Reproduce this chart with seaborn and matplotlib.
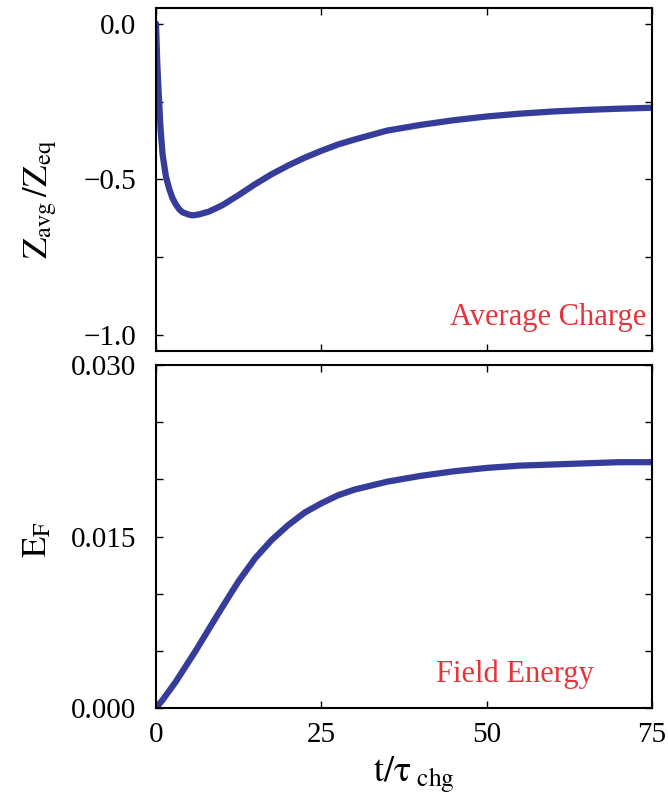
import numpy as np
import pandas as pd
import matplotlib
matplotlib.use("Agg")
import matplotlib.pyplot as plt
import seaborn as sns

# values
t_charge = [0, 0.2, 0.4, 0.7, 1.0, 1.5, 2.0, 2.5, 3.0, 3.5, 4.0, 5.0, 5.6, 6.5, 8, 10,
            12.5, 15, 17.5, 20, 22.5, 25, 27.5, 30, 35, 40, 45, 50, 55, 60, 65, 70, 75]
z_avg = [0.0, -0.13, -0.22, -0.34, -0.42, -0.49, -0.53, -0.56, -0.58, -0.595, -0.605,
         -0.613, -0.615, -0.612, -0.603, -0.583, -0.55, -0.515, -0.483, -0.455, -0.43,
         -0.408, -0.388, -0.372, -0.343, -0.325, -0.31, -0.298, -0.289, -0.282, -0.277,
         -0.273, -0.27]

t_field = [0, 1, 2, 3, 4, 5, 6, 8, 10, 12.5, 15, 17.5, 20, 22.5, 25, 27.5, 30, 35,
           40, 45, 50, 55, 60, 65, 70, 75]
e_field = [0.0, 0.0007, 0.0015, 0.0023, 0.0032, 0.0041, 0.005, 0.0069, 0.0088, 0.0111,
           0.0131, 0.0147, 0.016, 0.0171, 0.0179, 0.0186, 0.0191, 0.0198, 0.0203,
           0.0207, 0.021, 0.0212, 0.0213, 0.0214, 0.0215, 0.0215]

charge_df = pd.DataFrame({"t": t_charge, "z": z_avg})
field_df = pd.DataFrame({"t": t_field, "e": e_field})

sns.set_style("ticks")
plt.rcParams["font.family"] = ["Liberation Serif", "DejaVu Serif"]
plt.rcParams["mathtext.fontset"] = "stix"
plt.rcParams["xtick.direction"] = "in"
plt.rcParams["ytick.direction"] = "in"
plt.rcParams["text.color"] = "black"
plt.rcParams["axes.labelcolor"] = "black"
plt.rcParams["xtick.color"] = "black"
plt.rcParams["ytick.color"] = "black"
plt.rcParams["axes.edgecolor"] = "black"

line_color = "#353c9a"
note_color = "#e8333b"

fig = plt.figure(figsize=(6.68, 7.97), dpi=100)
ax1 = fig.add_axes([0.2335, 0.5596, 0.7425, 0.4304])
ax2 = fig.add_axes([0.2335, 0.1117, 0.7425, 0.4303])

sns.lineplot(data=charge_df, x="t", y="z", ax=ax1, color=line_color, lw=4.5)
sns.lineplot(data=field_df, x="t", y="e", ax=ax2, color=line_color, lw=4.5)

for ax in (ax1, ax2):
    ax.set_xlim(0, 75)
    ax.set_xticks([0, 25, 50, 75])
    ax.tick_params(which="both", top=True, right=True, length=5, width=1,
                   labelsize=21)
    ax.tick_params(axis="y", pad=14)
    ax.tick_params(axis="x", pad=10)
    for s in ax.spines.values():
        s.set_linewidth(1.5)
    ax.set_xlabel("")

ax1.set_ylim(-1.05, 0.05)
ax1.set_yticks([0.0, -0.25, -0.5, -0.75, -1.0])
ax1.set_yticklabels(["0.0", "", "\u22120.5", "", "\u22121.0"])
ax1.tick_params(labelbottom=False)
ax1.set_ylabel(r"$\mathrm{Z_{avg}\,/Z_{eq}}$", fontsize=25)
ax1.yaxis.set_label_coords(-0.195, 0.443)
ax1.text(0.988, 0.076, "Average Charge", transform=ax1.transAxes, ha="right",
         va="baseline", color=note_color, fontsize=22)

ax2.set_ylim(0, 0.030)
ax2.set_yticks([0.0, 0.005, 0.010, 0.015, 0.020, 0.025, 0.030])
ax2.set_yticklabels(["0.000", "", "", "0.015", "", "", "0.030"])
ax2.set_xticklabels(["0", "25", "50", "75"])
ax2.set_ylabel(r"$\mathrm{E_F}$", fontsize=25)
ax2.yaxis.set_label_coords(-0.205, 0.49)
ax2.text(0.565, 0.076, "Field Energy", transform=ax2.transAxes, ha="left",
         va="baseline", color=note_color, fontsize=22)
ax2.set_xlabel(r"$\mathrm{t/\tau_{\ chg}}$", fontsize=26)
ax2.xaxis.set_label_coords(0.52, -0.135)

fig.savefig("out.png", dpi=100)
